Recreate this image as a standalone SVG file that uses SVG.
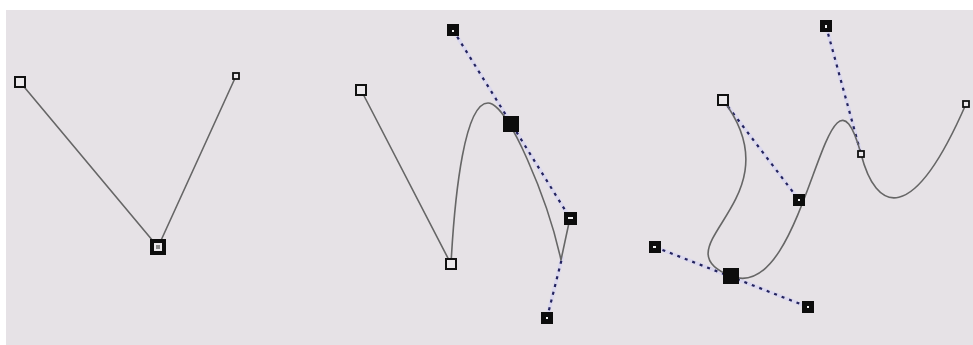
<svg xmlns="http://www.w3.org/2000/svg" width="973" height="345" viewBox="0 0 973 345">
  <style>
    .curve { fill: none; stroke: #666666; stroke-width: 1.6; stroke-linecap: round; stroke-linejoin: round; }
    .halo { fill: none; stroke: #dcd9ee; stroke-width: 4; stroke-linecap: round; }
    .dash { fill: none; stroke: #23235f; stroke-width: 2.2; stroke-dasharray: 3 5; }
    .open { fill: #ece9ec; stroke: #111; stroke-width: 2; }
    .opensm { fill: #ece9ec; stroke: #111; stroke-width: 1.8; }
    .solid { fill: #0d0d0d; }
    .dot { fill: #f2f2f2; }
  </style>
  <rect x="0" y="0" width="973" height="345" fill="#ffffff"/>
  <rect x="6" y="10" width="967" height="335" fill="#e6e2e6"/>

  <g id="connectors">
    <!-- panel 1 -->
    <polyline class="curve" points="20,82 158,247 236,76"/>
    <!-- panel 2 -->
    <line class="halo" x1="453" y1="30" x2="570" y2="218"/>
    <line class="halo" x1="547" y1="318" x2="562" y2="258"/>
    <line class="dash" x1="453" y1="30" x2="570" y2="218"/>
    <line class="dash" x1="547" y1="318" x2="562" y2="258"/>
    <path class="curve" d="M361,90 L451,264 C455,190 465,103 488,103 C508,103 548,200 561,260 L570,218"/>
    <!-- panel 3 -->
    <line class="halo" x1="723" y1="100" x2="799" y2="200"/>
    <line class="halo" x1="826" y1="26" x2="861" y2="154"/>
    <line class="halo" x1="655" y1="247" x2="808" y2="307"/>
    <line class="dash" x1="723" y1="100" x2="799" y2="200"/>
    <line class="dash" x1="826" y1="26" x2="861" y2="154"/>
    <line class="dash" x1="655" y1="247" x2="808" y2="307"/>
    <path class="curve" d="M723,100 C799,200 655,247 731,276 C808,307 826,26 861,154 C876,212 912,228 966,104"/>
  </g>

  <!-- panel 1 nodes -->
  <g id="p1-start"><rect class="open" x="15" y="77" width="10" height="10"/></g>
  <g id="p1-end"><rect class="opensm" x="233" y="73" width="6" height="6"/></g>
  <g id="p1-corner">
    <rect x="152" y="241" width="12" height="12" fill="#ece9ec" stroke="#0d0d0d" stroke-width="4"/>
    <rect x="156" y="245" width="4" height="4" fill="#8a8a8a"/>
  </g>

  <!-- panel 2 nodes -->
  <g id="p2-start"><rect class="open" x="356" y="85" width="10" height="10"/></g>
  <g id="p2-corner"><rect class="open" x="446" y="259" width="10" height="10"/></g>
  <g id="p2-handle-top"><rect class="solid" x="447" y="24" width="12" height="12"/><rect class="dot" x="452" y="30" width="2" height="2"/></g>
  <g id="p2-selected"><rect class="solid" x="503" y="116" width="16" height="16"/></g>
  <g id="p2-handle-right"><rect class="solid" x="564" y="212" width="13" height="13"/><rect class="dot" x="568" y="217" width="5" height="2"/></g>
  <g id="p2-handle-bottom"><rect class="solid" x="541" y="312" width="12" height="12"/><rect class="dot" x="546" y="317" width="2" height="2"/></g>

  <!-- panel 3 nodes -->
  <g id="p3-start"><rect class="open" x="718" y="95" width="10" height="10"/></g>
  <g id="p3-handle-mid"><rect class="solid" x="793" y="194" width="12" height="12"/><rect class="dot" x="798" y="199" width="2" height="2"/></g>
  <g id="p3-handle-left"><rect class="solid" x="649" y="241" width="12" height="12"/><rect class="dot" x="653" y="246" width="3" height="2"/></g>
  <g id="p3-selected"><rect class="solid" x="723" y="268" width="16" height="16"/></g>
  <g id="p3-handle-low"><rect class="solid" x="802" y="301" width="12" height="12"/><rect class="dot" x="807" y="306" width="2" height="2"/></g>
  <g id="p3-handle-top"><rect class="solid" x="820" y="20" width="12" height="12"/><rect class="dot" x="825" y="25" width="2" height="3"/></g>
  <g id="p3-point"><rect class="opensm" x="858" y="151" width="6" height="6"/></g>
  <g id="p3-end"><rect class="opensm" x="963" y="101" width="6" height="6"/></g>
</svg>
